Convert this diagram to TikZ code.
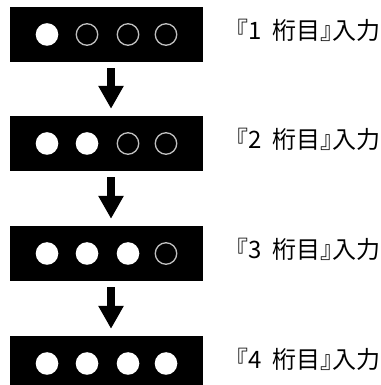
\documentclass[tikz,border=0pt]{standalone}
\usepackage{fontspec}
\newfontfamily\jpfont[RawFeature=+halt]{Noto Sans CJK JP}
\usetikzlibrary{arrows.meta}
\newcommand{\gapsp}{\ \hspace{0.22em}}
\begin{document}
\begin{tikzpicture}[x=1pt,y=1pt,
  panel/.style={rectangle, fill=black, draw=none, minimum width=193pt, minimum height=55pt, inner sep=0pt},
  on/.style={circle, fill=white, draw=none, minimum size=22.6pt, inner sep=0pt},
  off/.style={circle, draw=black!25, line width=1.3pt, fill=black, minimum size=21.5pt, inner sep=0pt},
  lbl/.style={anchor=base west, inner sep=0pt, font=\jpfont\fontsize{24}{28}\selectfont},
  bigarrow/.style={line width=8pt, -{Triangle[width=24pt,length=23pt]}, shorten >=0pt}
]
\useasboundingbox (0,0) rectangle (380,385);
\fill[white] (0,0) rectangle (380,385);
\clip (0,0) rectangle (380,385);
% panels
\node[panel] (b1) at (106.5,350.5) {};
\node[panel] (b2) at (106.5,241.5) {};
\node[panel] (b3) at (106.5,131.5) {};
\node[panel] (b4) at (106.5,21.5) {};
% circles
\node[on]  (c11) at ([xshift=-59.5pt]b1.center) {};
\node[off] (c12) at ([xshift=-19.5pt]b1.center) {};
\node[off] (c13) at ([xshift=21.5pt]b1.center) {};
\node[off] (c14) at ([xshift=59.5pt]b1.center) {};
\node[on]  (c21) at ([xshift=-59.5pt]b2.center) {};
\node[on]  (c22) at ([xshift=-19.5pt]b2.center) {};
\node[off] (c23) at ([xshift=21.5pt]b2.center) {};
\node[off] (c24) at ([xshift=59.5pt]b2.center) {};
\node[on]  (c31) at ([xshift=-59.5pt]b3.center) {};
\node[on]  (c32) at ([xshift=-19.5pt]b3.center) {};
\node[on]  (c33) at ([xshift=21.5pt]b3.center) {};
\node[off] (c34) at ([xshift=59.5pt]b3.center) {};
\node[on]  (c41) at ([xshift=-59.5pt]b4.center) {};
\node[on]  (c42) at ([xshift=-19.5pt]b4.center) {};
\node[on]  (c43) at ([xshift=21.5pt]b4.center) {};
\node[on]  (c44) at ([xshift=59.5pt]b4.center) {};
% labels
\node[lbl] (t1) at (236,345.5) {『1\gapsp 桁目』入力};
\node[lbl] (t2) at (236,236.5) {『2\gapsp 桁目』入力};
\node[lbl] (t3) at (236,126.5) {『3\gapsp 桁目』入力};
\node[lbl] (t4) at (236,16.5) {『4\gapsp 桁目』入力};
% arrows
\draw[bigarrow] ([xshift=4.5pt,yshift=-6pt]b1.south) -- ([xshift=4.5pt,yshift=7pt]b2.north);
\draw[bigarrow] ([xshift=4.5pt,yshift=-6pt]b2.south) -- ([xshift=4.5pt,yshift=7pt]b3.north);
\draw[bigarrow] ([xshift=4.5pt,yshift=-6pt]b3.south) -- ([xshift=4.5pt,yshift=7pt]b4.north);
\end{tikzpicture}
\end{document}
